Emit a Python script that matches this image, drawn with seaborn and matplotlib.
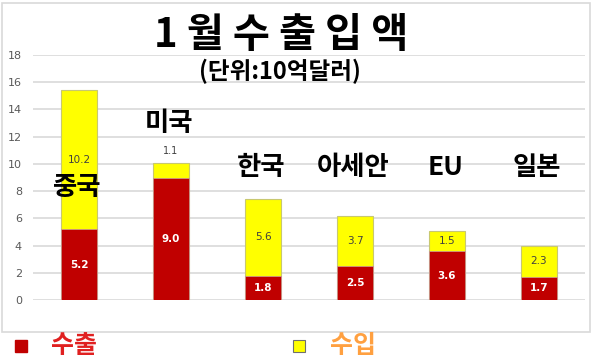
import matplotlib
matplotlib.use("Agg")
import matplotlib.pyplot as plt
from matplotlib.patches import Rectangle
import pandas as pd
import seaborn as sns

# 1월 수출입액 (단위: 10억달러)
regions = ["중국", "미국", "한국", "아세안", "EU", "일본"]
exports = [5.2, 9.0, 1.8, 2.5, 3.6, 1.7]
imports = [10.2, 1.1, 5.6, 3.7, 1.5, 2.3]
y_ticks = [0, 2, 4, 6, 8, 10, 12, 14, 16, 18]

RED = "#c00000"
YELLOW = "#ffff00"

sns.set_style("white")
plt.rcParams["font.family"] = ["Noto Sans CJK KR", "DejaVu Sans"]

df = pd.DataFrame({"region": regions, "exports": exports, "imports": imports})
df["total"] = df["exports"] + df["imports"]

fig = plt.figure(figsize=(6, 3.59), dpi=100)
ax = fig.add_axes([0.055, 0.1643, 0.92, 0.6825])

# stacked bars: total in yellow, exports drawn over it in red
sns.barplot(data=df, x="region", y="total", color=YELLOW, saturation=1,
            width=0.4, edgecolor="#c8c870", linewidth=0.8, ax=ax)
sns.barplot(data=df, x="region", y="exports", color=RED, saturation=1,
            width=0.4, edgecolor="#c8a0a0", linewidth=0.5, ax=ax)

ax.set_xlim(-0.5, len(regions) - 0.5)
ax.set_ylim(0, 18)
ax.set_yticks(y_ticks)
ax.set_yticklabels([str(t) for t in y_ticks], fontsize=8, color="#595959",
                   family="DejaVu Sans")
ax.tick_params(axis="y", length=0, pad=8)
ax.set_xticks([])
ax.set_xlabel("")
ax.set_ylabel("")
ax.grid(axis="y", color="#d9d9d9", linewidth=1.2)
ax.set_axisbelow(True)
for s in ax.spines.values():
    s.set_visible(False)

# value labels
for i, (e, m) in enumerate(zip(exports, imports)):
    ax.text(i, e / 2, f"{e:.1f}", ha="center", va="center", color="white",
            fontsize=7.5, fontweight="bold", family="DejaVu Sans")
    if m < 1.3:
        ax.text(i, e + m + 0.5, f"{m:.1f}", ha="center", va="bottom",
                color="#404040", fontsize=7, family="DejaVu Sans")
    else:
        ax.text(i, e + m / 2, f"{m:.1f}", ha="center", va="center",
                color="#404040", fontsize=7.5, family="DejaVu Sans")

# region names written above the bars
name_y = [8.3, 13.0, 9.7, 9.7, 9.7, 9.7]
for i, (name, y) in enumerate(zip(regions, name_y)):
    ax.text(i - 0.02, y, name, ha="center", va="center", fontsize=19,
            fontweight="black", color="black")

# titles
fig.text(0.468, 0.9, "1 월 수 출 입 액", ha="center", va="center", fontsize=29,
         fontweight="black", color="black")
fig.text(0.466, 0.8, "(단위:10억달러)", ha="center", va="center", fontsize=17,
         fontweight="bold", color="black")

# light frame around the chart area
fig.add_artist(Rectangle((0.004, 0.075), 0.98, 0.918, transform=fig.transFigure,
                         fill=False, edgecolor="#d9d9d9", linewidth=1.2))

# legend below the frame
fig.add_artist(Rectangle((0.025, 0.02), 0.02, 0.033, transform=fig.transFigure,
                         facecolor=RED, edgecolor=RED))
fig.text(0.085, 0.035, "수출", ha="left", va="center", fontsize=18,
         fontweight="bold", color="#e02020")
fig.add_artist(Rectangle((0.488, 0.02), 0.02, 0.033, transform=fig.transFigure,
                         facecolor=YELLOW, edgecolor="#707070", linewidth=0.8))
fig.text(0.55, 0.035, "수입", ha="left", va="center", fontsize=18,
         fontweight="bold", color="#ffa040")

fig.savefig("out.png", dpi=100)
